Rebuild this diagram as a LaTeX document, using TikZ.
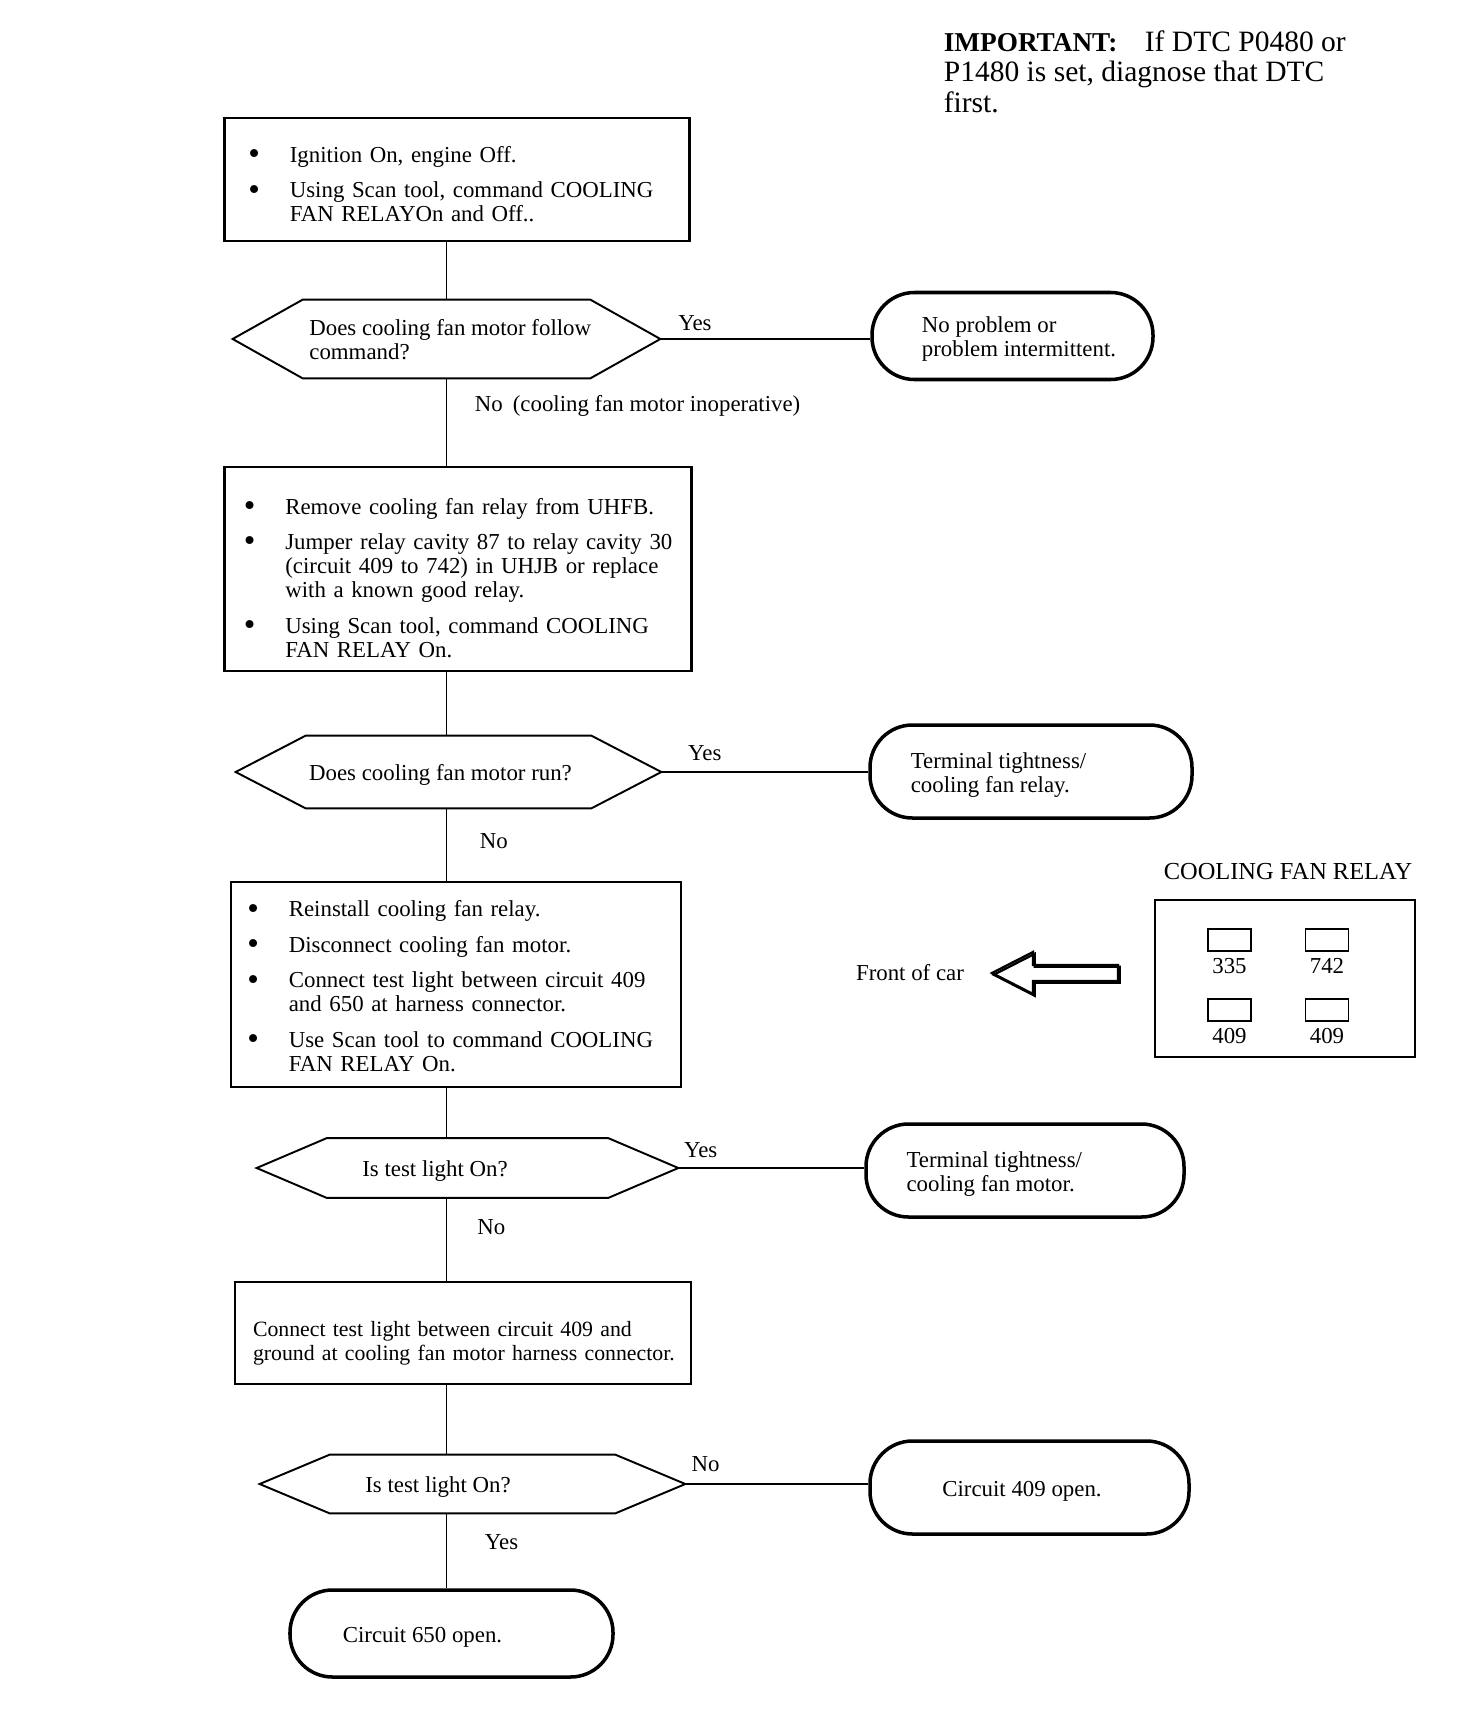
\documentclass[tikz,border=0pt]{standalone}
\usepackage{graphicx}
\usepackage{fontspec}
\setmainfont{Liberation Serif}
\usetikzlibrary{positioning}
\newcommand{\bodyfont}{\fontsize{13}{13.7}\selectfont}
\newcommand{\notefont}{\fontsize{16.8}{17.4}\selectfont}
\newcommand{\bul}{\raisebox{-0.1em}{\scalebox{1.45}{\textbullet}}}
\newcommand{\boxtext}[2][2.2pt]{\raisebox{-#1}[\height][\depth]{\begin{tabular}{@{}l@{}}#2\end{tabular}}}
\newcommand{\txtl}[2][0pt]{\boxtext{#2}\hspace*{#1}}
\newcommand{\blist}[2][0pt]{\raisebox{-#1}[\height][\depth]{\begin{tabular}{@{}l@{\hspace{0.6cm}}l@{}}#2\end{tabular}}}

\begin{document}
\begin{tikzpicture}[
  font=\bodyfont,
  stepbox/.style={draw, line width=1.15pt, align=left, inner ysep=0pt},
  dec/.style={inner sep=0pt},
  hexline/.style={line width=1.1pt, line join=miter},
  term/.style={draw, line width=2pt, rounded corners=0.85cm, inner sep=0pt},
  flow/.style={line width=1.1pt},
  lbl/.style={inner sep=0pt},
  cavity/.style={draw, line width=1pt, minimum width=0.86cm, minimum height=0.44cm, inner sep=0pt}
]
\useasboundingbox (0,0) rectangle (29.12,-34.32);
\coordinate (spine) at (8.93,0);
% note, top right
\node[anchor=north west, align=left, inner sep=0pt, font=\notefont] (note) at (18.87,-0.6)
  {{\fontsize{15.5}{17.4}\selectfont\bfseries IMPORTANT:}\hspace{0.55cm}If DTC P0480 or\\P1480 is set, diagnose that DTC\\first.};
% steps (main column)
\node[stepbox, inner xsep=0.475cm, text width=8.35cm, minimum height=2.46cm] (b1) at (9.14,-3.59)
  {\blist[4.4pt]{\bul & Ignition On, engine Off.\\[6.5pt]
          \bul & Using Scan tool, command COOLING\\ & FAN RELAYOn and Off..}};
\node[stepbox, inner xsep=0.385cm, text width=8.57cm, minimum height=4.08cm] (b2) at (9.16,-11.38)
  {\blist[6.8pt]{\bul & Remove cooling fan relay from UHFB.\\[6.5pt]
          \bul & Jumper relay cavity 87 to relay cavity 30\\
               & (circuit 409 to 742) in UHJB or replace\\
               & with a known good relay.\\[6.5pt]
          \bul & Using Scan tool, command COOLING\\ & FAN RELAY On.}};
\node[stepbox, inner xsep=0.325cm, text width=8.35cm, minimum height=4.1cm] (b3) at (9.12,-19.69)
  {\blist[2.8pt]{\bul & Reinstall cooling fan relay.\\[6.5pt]
          \bul & Disconnect cooling fan motor.\\[6.5pt]
          \bul & Connect test light between circuit 409\\ & and 650 at harness connector.\\[6.5pt]
          \bul & Use Scan tool to command COOLING\\ & FAN RELAY On.}};
\node[stepbox, inner xsep=0.36cm, text width=8.4cm, minimum height=2.04cm, font=\fontsize{12.4}{13.7}\selectfont] (b4) at (9.26,-26.66)
  {\boxtext[6.2pt]{Connect test light between circuit 409 and\\ground at cooling fan motor harness connector.}};
% decisions
\node[dec, minimum width=5.74cm, minimum height=1.56cm] (q1) at (8.93,-6.78)
  {\txtl[-0.15cm]{Does cooling fan motor follow\\command?}};
\node[dec, minimum width=5.7cm, minimum height=1.44cm] (q2) at (8.97,-15.44)
  {\txtl[0.32cm]{Does cooling fan motor run?}};
\node[dec, minimum width=5.62cm, minimum height=1.18cm] (q3) at (9.35,-23.36)
  {\txtl[1.3cm]{Is test light On?}};
\node[dec, minimum width=5.7cm, minimum height=1.16cm] (q4) at (9.45,-29.68)
  {\txtl[1.38cm]{Is test light On?}};
\foreach \q in {q1,q2,q3,q4}
  \draw[hexline] (\q.north west) -- (\q.north east) -- ([xshift=1.4cm]\q.east) coordinate (\q-tip)
    -- (\q.south east) -- (\q.south west) -- ([xshift=-1.4cm]\q.west) -- cycle;
% results
\node[term, minimum width=5.62cm, minimum height=1.74cm] (t1) at (20.25,-6.72)
  {\txtl[-0.26cm]{No problem or\\problem intermittent.}};
\node[term, minimum width=6.44cm, minimum height=1.86cm] (t2) at (20.62,-15.43)
  {\txtl[1.3cm]{Terminal tightness/\\cooling fan relay.}};
\node[term, minimum width=6.36cm, minimum height=1.86cm] (t3) at (20.5,-23.41)
  {\txtl[1.23cm]{Terminal tightness/\\cooling fan motor.}};
\node[term, minimum width=6.38cm, minimum height=1.86cm] (t4) at (20.59,-29.75)
  {\txtl[0.3cm]{Circuit 409 open.}};
\node[term, minimum width=6.46cm, minimum height=1.74cm] (t5) at (9.03,-32.67)
  {\txtl[1.16cm]{Circuit 650 open.}};
% flow lines
\draw[flow] (b1.south -| spine) -- (q1.north -| spine);
\draw[flow] (q1-tip) -- node[lbl, pos=0.165, anchor=south, yshift=0.14cm] {Yes} (q1-tip -| t1.west);
\draw[flow] (q1.south -| spine) -- node[lbl, pos=0.31, anchor=west, xshift=0.55cm]
  {No\hspace{0.2cm}(cooling fan motor inoperative)} (b2.north -| spine);
\draw[flow] (b2.south -| spine) -- (q2.north -| spine);
\draw[flow] (q2-tip) -- node[lbl, pos=0.21, anchor=south, yshift=0.2cm] {Yes} (q2-tip -| t2.west);
\draw[flow] (q2.south -| spine) -- node[lbl, pos=0.45, anchor=west, xshift=0.65cm] {No} (b3.north -| spine);
\draw[flow] (b3.south -| spine) -- (q3.north -| spine);
\draw[flow] (q3-tip) -- node[lbl, pos=0.12, anchor=south, yshift=0.18cm] {Yes} (q3-tip -| t3.west);
\draw[flow] (q3.south -| spine) -- node[lbl, pos=0.35, anchor=west, xshift=0.6cm] {No} (b4.north -| spine);
\draw[flow] (b4.south -| spine) -- (q4.north -| spine);
\draw[flow] (q4-tip) -- node[lbl, pos=0.11, anchor=south, yshift=0.22cm] {No} (q4-tip -| t4.west);
\draw[flow] (q4.south -| spine) -- node[lbl, pos=0.38, anchor=west, xshift=0.75cm] {Yes} (t5.north -| spine);
% relay layout
\node[font=\fontsize{13.9}{14.5}\selectfont] (relaytitle) at (25.76,-17.43) {COOLING FAN RELAY};
\node[draw, line width=0.6pt, minimum width=5.2cm, minimum height=3.14cm] (relay) at (25.7,-19.57) {};
\node[cavity, label=below:335] (c335) at (24.59,-18.8) {};
\node[cavity, label=below:742] (c742) at (26.54,-18.8) {};
\node[cavity, label=below:409] (c409a) at (24.59,-20.2) {};
\node[cavity, label=below:409] (c409b) at (26.54,-20.2) {};
\node (front) at (18.2,-19.46) {Front of car};
\foreach \s in {0,0.035}
  \draw[line width=1.3pt, line join=miter, shift={(\s,-\s)}] (19.84,-19.46) -- (20.66,-19.04) -- (20.66,-19.3)
    -- (22.36,-19.3) -- (22.36,-19.62) -- (20.66,-19.62) -- (20.66,-19.88) -- cycle;
\end{tikzpicture}
\end{document}
